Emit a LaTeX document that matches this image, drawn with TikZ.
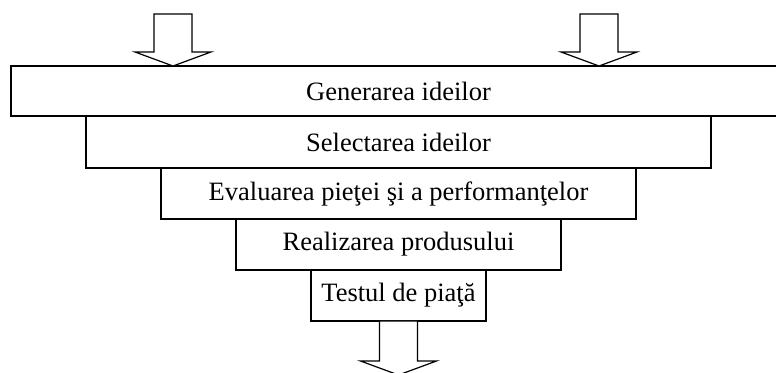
\documentclass[tikz,border=0pt]{standalone}
\usepackage{fontspec}
\setmainfont{Liberation Serif}
\usepackage{xcolor}
\usepackage{tikz}
\usetikzlibrary{positioning, calc}
\definecolor{contur}{rgb}{0.0, 0.0, 0.0}

\tikzset{
  etapa/.style={draw=contur, line width=1.2pt, outer sep=0pt, inner sep=0pt,
    minimum height=51pt, font=\fontsize{26.5}{31}\selectfont},
  sageata/.style={draw=contur, fill=white, line width=1.2pt, line join=miter},
  pics/sageatamare/.style={code={
    \draw[sageata] (0,0) -- (-38,14) -- (-19,14) -- (-19,#1) -- (19,#1)
      -- (19,14) -- (38,14) -- cycle;
  }}
}

\begin{document}
\begin{tikzpicture}[x=1pt, y=1pt]
        % Cadrul imaginii
        \useasboundingbox (0,0) rectangle (776,372);
        \clip (0,0) rectangle (776,372);

        % Etapele
        \node[etapa, minimum width=775pt, minimum height=50pt] (generare) at (398.5,281) {Generarea ideilor};
        \node[etapa, minimum width=625pt, minimum height=52pt, below=0pt of generare] (selectare) {Selectarea ideilor};
        \node[etapa, minimum width=475pt, below=0pt of selectare] (evaluare) {Evaluarea pieţei şi a performanţelor};
        \node[etapa, minimum width=325pt, below=0pt of evaluare] (realizare) {Realizarea produsului};
        \node[etapa, minimum width=175pt, below=0pt of realizare] (test) {Testul de piaţă};

        % Sagetile de intrare
        \pic at ($(generare.north west)+(162,0)$) {sageatamare=52};
        \pic at ($(generare.north west)+(588,0)$) {sageatamare=52};

        % Sageata de iesire
        \pic at ($(test.south)+(0,-54)$) {sageatamare=54};
    \end{tikzpicture}
\end{document}
